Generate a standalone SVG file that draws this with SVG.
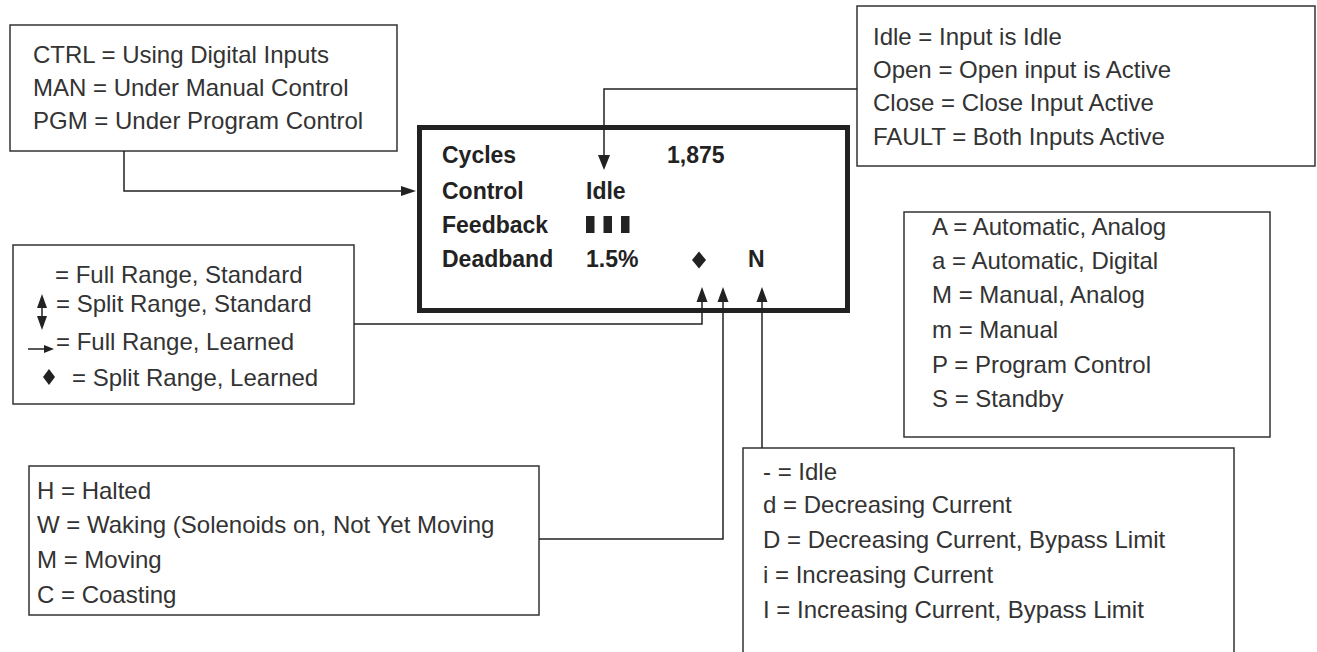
<svg xmlns="http://www.w3.org/2000/svg" width="1317" height="652" viewBox="0 0 1317 652">
<style>
.box{fill:#fff;stroke:#333;stroke-width:1.5}
.t{font-family:"Liberation Sans",Arial,sans-serif;font-size:24px;fill:#333}
.b{font-family:"Liberation Sans",Arial,sans-serif;font-size:23px;font-weight:bold;fill:#222}
.c{fill:none;stroke:#222;stroke-width:1.5}
.ah{fill:#222}
</style>
<rect width="1317" height="652" fill="#fff"/>
<g id="ctrl-legend">
<rect class="box" x="10" y="25" width="387" height="126"/>
<text class="t" x="33" y="63">CTRL = Using Digital Inputs</text>
<text class="t" x="33" y="96">MAN = Under Manual Control</text>
<text class="t" x="33" y="129">PGM = Under Program Control</text>
</g>
<g id="input-legend">
<rect class="box" x="857" y="6" width="458" height="160"/>
<text class="t" x="873" y="45">Idle = Input is Idle</text>
<text class="t" x="873" y="78">Open = Open input is Active</text>
<text class="t" x="873" y="111">Close = Close Input Active</text>
<text class="t" x="873" y="145">FAULT = Both Inputs Active</text>
</g>
<g id="display">
<rect x="419.5" y="127.5" width="428" height="183" fill="#fff" stroke="#222" stroke-width="5"/>
<text class="b" x="442" y="163">Cycles</text>
<text class="b" x="667" y="163">1,875</text>
<text class="b" x="442" y="199">Control</text>
<text class="b" x="586" y="199">Idle</text>
<text class="b" x="442" y="233">Feedback</text>
<rect x="586" y="216" width="8.5" height="17" fill="#222"/>
<rect x="603.5" y="216" width="8.5" height="17" fill="#222"/>
<rect x="621" y="216" width="8.5" height="17" fill="#222"/>
<text class="b" x="442" y="267">Deadband</text>
<text class="b" x="586" y="267">1.5%</text>
<polygon points="699,251.5 706,260 699,268.5 692,260" fill="#222"/>
<text class="b" x="748" y="267">N</text>
</g>
<g id="deadband-legend">
<rect class="box" x="13" y="245" width="341" height="159"/>
<text class="t" x="55" y="283">= Full Range, Standard</text>
<line x1="42" y1="305" x2="42" y2="319" stroke="#222" stroke-width="1.5"/>
<polygon points="42,294 47,308 37,308" fill="#222"/>
<polygon points="42,330 47,316 37,316" fill="#222"/>
<text class="t" x="56" y="312">= Split Range, Standard</text>
<line x1="28" y1="349" x2="47" y2="349" stroke="#222" stroke-width="1.5"/>
<polygon points="54,349 44,345 44,353" fill="#222"/>
<text class="t" x="56" y="350">= Full Range, Learned</text>
<polygon points="49,369 55,377 49,385 43,377" fill="#222"/>
<text class="t" x="72" y="386">= Split Range, Learned</text>
</g>
<g id="mode-legend">
<rect class="box" x="904" y="212" width="366" height="225"/>
<text class="t" x="932" y="235">A = Automatic, Analog</text>
<text class="t" x="932" y="269">a = Automatic, Digital</text>
<text class="t" x="932" y="303">M = Manual, Analog</text>
<text class="t" x="932" y="338">m = Manual</text>
<text class="t" x="932" y="373">P = Program Control</text>
<text class="t" x="932" y="407">S = Standby</text>
</g>
<g id="motion-legend">
<rect class="box" x="29" y="466" width="510" height="149"/>
<text class="t" x="37" y="499">H = Halted</text>
<text class="t" x="37" y="533">W = Waking (Solenoids on, Not Yet Moving</text>
<text class="t" x="37" y="568">M = Moving</text>
<text class="t" x="37" y="603">C = Coasting</text>
</g>
<g id="current-legend">
<rect class="box" x="743" y="448" width="491" height="215"/>
<text class="t" x="763" y="480">- = Idle</text>
<text class="t" x="763" y="513">d = Decreasing Current</text>
<text class="t" x="763" y="548">D = Decreasing Current, Bypass Limit</text>
<text class="t" x="763" y="583">i = Increasing Current</text>
<text class="t" x="763" y="618">I = Increasing Current, Bypass Limit</text>
</g>
<g id="connectors">
<polyline class="c" points="124,151 124,191 403,191"/>
<polygon class="ah" points="416,191 401,186 401,196"/>
<polyline class="c" points="857,89 604,89 604,158"/>
<polygon class="ah" points="604,170 598,155 610,155"/>
<polyline class="c" points="354,324 702,324 702,298"/>
<polygon class="ah" points="702,287 696.5,302 707.5,302"/>
<polyline class="c" points="539,539 723,539 723,298"/>
<polygon class="ah" points="723,287 717.5,302 728.5,302"/>
<polyline class="c" points="762,448 762,298"/>
<polygon class="ah" points="762,287 756.5,302 767.5,302"/>
</g>
</svg>
